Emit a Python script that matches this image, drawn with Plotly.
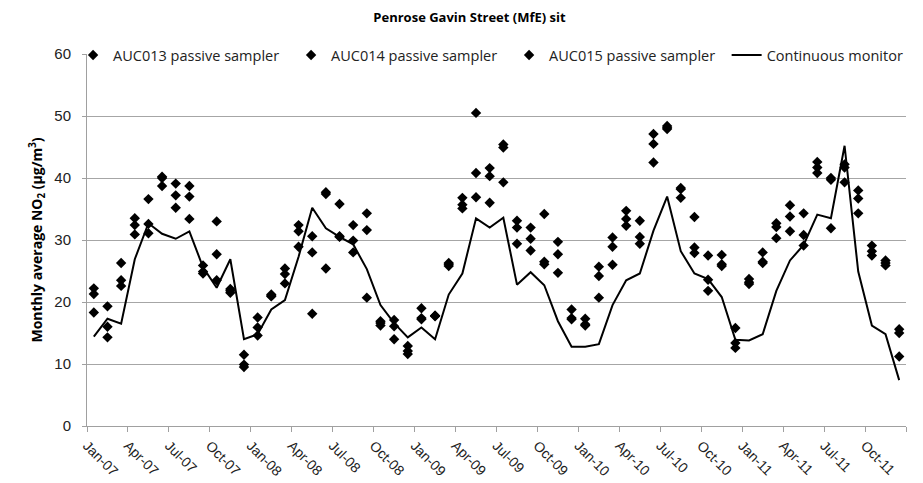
import plotly.graph_objects as go

months = [f"{m}-{y:02d}" for y in range(7, 12) for m in
          ["Jan", "Feb", "Mar", "Apr", "May", "Jun", "Jul", "Aug", "Sep", "Oct", "Nov", "Dec"]]

auc013 = [22.2, 19.3, 26.3, 33.5, 36.6, 40.2, 39.1, 38.7, 25.9, 33.0, 22.1, 11.5,
          17.5, 21.2, 25.4, 32.4, 30.6, 37.7, 35.8, 32.4, 34.3, 16.9, 17.1, 12.9,
          19.0, 17.8, 26.3, 36.8, 50.5, 41.6, 45.4, 33.1, 32.0, 34.2, 29.7, 18.8,
          17.3, 25.7, 30.4, 34.7, 33.1, 47.1, 48.4, 38.4, 33.7, 27.5, 27.6, 15.8,
          23.7, 28.0, 32.7, 35.6, 34.3, 42.6, 40.0, 42.2, 38.0, 29.1, 26.7, 15.6]
auc014 = [21.3, 16.0, 23.5, 32.4, 32.6, 38.7, 37.2, 37.0, 24.6, 27.7, 21.5, 9.9,
          15.9, 20.9, 24.5, 31.4, 28.0, 37.4, 30.5, 29.9, 31.6, 16.6, 16.1, 12.1,
          17.2, 17.8, 25.8, 35.7, 40.8, 40.3, 44.9, 32.0, 30.2, 26.5, 27.7, 17.2,
          16.2, 24.2, 28.9, 33.4, 30.5, 45.5, 47.9, 36.8, 28.8, 23.6, 26.1, 13.4,
          22.9, 26.3, 32.1, 33.8, 30.8, 41.7, 39.7, 41.7, 36.7, 28.2, 26.3, 15.0]
auc015 = [18.3, 14.3, 22.6, 30.9, 31.1, 40.0, 35.2, 33.4, 24.9, 23.5, 21.8, 9.5,
          14.6, 21.0, 23.0, 28.9, 18.1, 25.4, 30.6, 28.0, 20.7, 16.2, 14.0, 11.6,
          17.4, 17.7, 26.1, 35.1, 36.9, 36.0, 39.3, 29.4, 28.3, 26.1, 24.7, 17.4,
          16.4, 20.7, 26.0, 32.3, 29.4, 42.5, 48.1, 38.2, 27.9, 21.8, 25.8, 12.6,
          23.2, 26.5, 30.3, 31.4, 29.1, 40.8, 31.9, 39.3, 34.3, 27.5, 25.9, 11.2]
continuous = [14.4, 17.3, 16.5, 26.9, 32.7, 31.0, 30.2, 31.4, 25.6, 22.3, 26.9, 14.0,
              14.8, 18.8, 20.3, 27.3, 35.2, 31.9, 30.5, 29.3, 25.3, 19.5, 16.6, 14.3,
              15.9, 14.0, 21.2, 24.6, 33.5, 32.0, 33.6, 22.8, 24.8, 22.7, 16.9, 12.8,
              12.8, 13.2, 19.5, 23.5, 24.6, 31.5, 37.0, 28.2, 24.6, 23.7, 20.8, 13.9,
              13.8, 14.8, 21.8, 26.7, 29.2, 34.1, 33.5, 45.2, 24.9, 16.2, 14.8, 7.4]

x = [i + 0.5 for i in range(len(months))]
tick_pos = list(range(0, 61, 3))
tick_text = [months[i] if i < len(months) else "" for i in tick_pos]

fig = go.Figure()
marker = dict(symbol="diamond", size=8, color="black")
for name, vals in [("AUC013 passive sampler", auc013),
                   ("AUC014 passive sampler", auc014),
                   ("AUC015 passive sampler", auc015)]:
    fig.add_trace(go.Scatter(x=x, y=vals, mode="markers", name=name, marker=marker,
                             legend="legend"))
fig.add_trace(go.Scatter(x=x, y=continuous, mode="lines", name="Continuous monitor",
                         line=dict(color="black", width=2), legend="legend2"))

legend_font = dict(size=14.5, color="#222222")
fig.update_layout(
    width=923, height=483,
    margin=dict(l=79, r=25, t=46, b=55),
    paper_bgcolor="white", plot_bgcolor="white",
    font=dict(family="Open Sans, Liberation Sans, sans-serif", color="#222222"),
    title=dict(text="<b>Penrose Gavin Street (MfE) sit</b>", x=0.5, xanchor="center",
               y=0.99, yanchor="top", font=dict(size=13, color="black")),
    legend=dict(orientation="h", x=-0.017, y=1.04, xanchor="left", yanchor="top",
                font=legend_font, bgcolor="rgba(0,0,0,0)",
                itemwidth=30, tracegroupgap=0, entrywidth=173, entrywidthmode="pixels"),
    legend2=dict(orientation="h", x=0.781, y=1.04, xanchor="left", yanchor="top",
                 font=legend_font, bgcolor="rgba(0,0,0,0)", itemwidth=30),
    showlegend=True,
)
fig.update_xaxes(range=[0, 60], tickmode="array", tickvals=tick_pos, ticktext=tick_text,
                 tickangle=45, ticks="outside", ticklen=5, tickcolor="#A0A0A0",
                 showline=True, linecolor="#A0A0A0", linewidth=1, showgrid=False,
                 zeroline=False,
                 tickfont=dict(family="Liberation Sans Narrow, Liberation Sans, sans-serif",
                               size=14, color="#222222"))
fig.update_yaxes(range=[0, 60], dtick=10, showgrid=True, gridcolor="#A6A6A6", gridwidth=1,
                 showline=True, linecolor="#A0A0A0", linewidth=1, ticks="outside",
                 ticklen=4, tickcolor="#A0A0A0", zeroline=False, ticklabelstandoff=8,
                 tickfont=dict(family="Liberation Sans Narrow, Liberation Sans, sans-serif",
                               size=15, color="#222222"),
                 title=dict(text="<b>Monthly average NO<sub>2</sub> (μg/m<sup>3</sup>)</b>",
                            font=dict(size=14, color="black"), standoff=8))

fig.write_html("out.html")
